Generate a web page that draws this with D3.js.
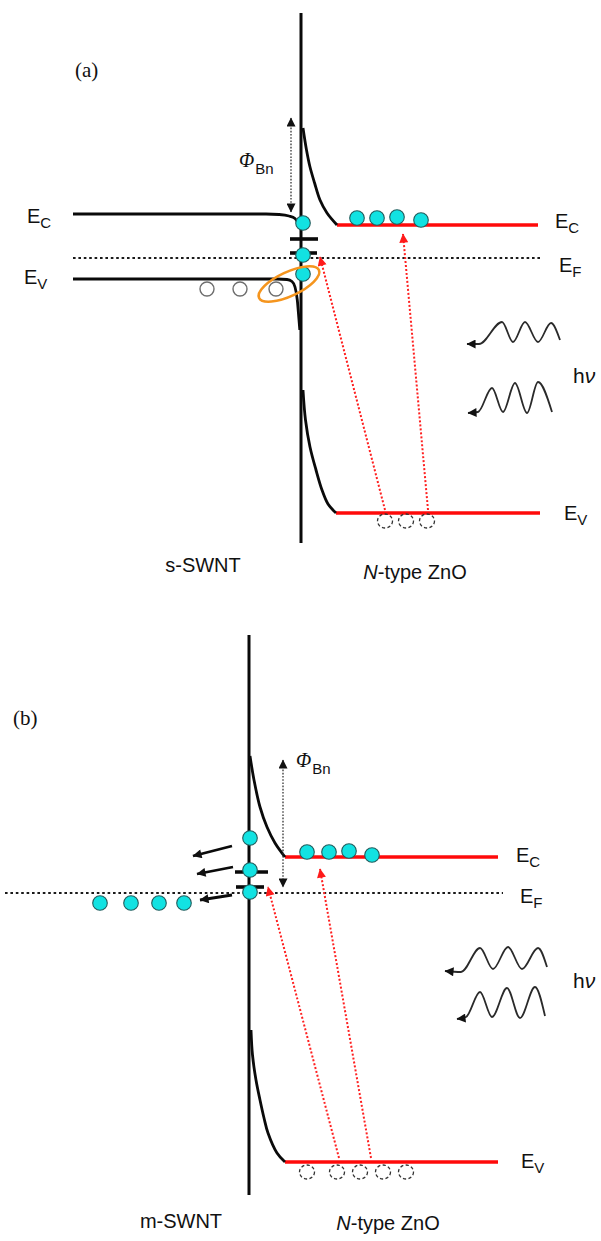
<!DOCTYPE html>
<html><head><meta charset="utf-8">
<script src="https://cdn.jsdelivr.net/npm/d3@7"></script>
<style>body{margin:0;background:#fff}svg{display:block}</style>
</head><body>
<svg id="c" width="601" height="1241"></svg>
<script>
// ---------- DATA (position relative to junction, energy relative to E_F) ----------
// Panel (a): s-SWNT / N-type ZnO
const junctionA = [245, -285];
const leftEcA = [[-228,44],[-35,44],[-22,43.5],[-12,42],[-6,39.5],[-3,35]];
const leftEvA = [[-228,-21],[-24,-21],[-14,-21.5],[-9,-23.5],[-6,-29],[-3.7,-42],[-2,-62],[-1.2,-72]];
const rightEcCurveA = [[2,130],[5.5,108],[9,91],[13.6,75],[19,58],[26,45],[36,33]];
const rightEvCurveA = [[2,-132],[4.5,-162],[9,-189],[15,-212],[21,-232],[27,-246],[35,-255]];
const redEcA = [[36,33],[237,33]];
const redEvA = [[35,-255],[239,-255]];
const fermiA = [[-228,0],[240,0]];
const barrierA = [[-10,140],[-10,46]];
const trapsA = [[-11,17,19],[-11,16,5]];
const electronsA = [[2,35],[2,3],[2,-16],[56,40],[76,40],[96,41],[120,38]];
const holesA = [[-94,-31],[-61,-31],[-25,-31]];
const dashedHolesA = [[84,-263],[105,-263],[126,-263]];
const excitationA = [[[84,-252],[19,1]],[[127,-252],[102,24]]];
const photon1A = [[166,-86],[178,-86],[201,-64],[212,-84],[224,-64],[237,-84],[250,-65],[259,-82]];
const photon2A = [[167,-155],[177,-154],[191,-130],[202,-154],[214,-125],[226,-155],[237,-124],[251,-154]];
const pairA = [-12,-26];

// Panel (b): m-SWNT / N-type ZnO
const junctionB = [258, -302];
const rightEcCurveB = [[1,137],[5,113],[11,86],[18,66],[26,50],[36,36]];
const rightEvCurveB = [[2,-137],[3.5,-162],[7,-187],[11,-207],[15,-225],[19,-240],[28,-260],[36,-269]];
const redEcB = [[36,36],[249,36]];
const redEvB = [[36,-269],[249,-269]];
const fermiB = [[-244,0],[254,0]];
const barrierB = [[34,133],[34,6]];
const trapsB = [[-14,19,21],[-13,15,6]];
const electronsB = [[1,55],[1,23],[1,1],[58,41],[80,41],[100,42],[123,38]];
const metalElectronsB = [[-149,-10],[-118,-10],[-90,-10],[-65,-10]];
const emissionB = [[[-17,47],[-56,37]],[[-16,26],[-52,19]],[[-17,-2],[-49,-7]]];
const dashedHolesB = [[58,-279],[88,-279],[111,-279],[134,-279],[157,-279]];
const excitationB = [[[90,-265],[19,6]],[[122,-265],[71,24]]];
const photon1B = [[196,-78],[212,-79],[231,-55],[244,-76],[259,-54],[273,-76],[289,-55],[298,-74]];
const photon2B = [[208,-126],[217,-124],[231,-99],[243,-124],[258,-95],[271,-125],[286,-94],[296,-123]];

// Text
const panelLabels = ["(a)", "(b)"];
const materialLabels = {a:["s-SWNT","N-type ZnO"], b:["m-SWNT","N-type ZnO"]};

// ---------- DRAWING ----------
const svg = d3.select("#c");
const defs = svg.append("defs");
function marker(id, color, len, wid){
  defs.append("marker").attr("id",id).attr("viewBox","0 0 10 10")
    .attr("refX",9.5).attr("refY",5).attr("markerUnits","userSpaceOnUse")
    .attr("markerWidth",len).attr("markerHeight",wid).attr("orient","auto-start-reverse")
    .append("path").attr("d","M0,0L10,5L0,10Z").attr("fill",color);
}
marker("mPhi","#111",12,9);
marker("mRed","#ff1a1a",11,9);
marker("mBlk","#111",11,9);
marker("mWave","#111",12,9);

const frames = {a:{x:301,y:258}, b:{x:249,y:893}};
function mk(p){
  const f = frames[p];
  return {
    x: d3.scaleLinear().domain([0,100]).range([f.x, f.x+100]),
    y: d3.scaleLinear().domain([0,100]).range([f.y, f.y-100])
  };
}
const CYAN = "#12e2e2", CYAN_STROKE = "#235c5c", RED = "#ff0a0a";
const SANS = "'Liberation Sans', Arial, sans-serif", SERIF = "'Liberation Serif', 'Times New Roman', serif";

function drawPanel(p, d){
  const s = mk(p);
  const g = svg.append("g");
  const line = c => d3.line().x(v=>s.x(v[0])).y(v=>s.y(v[1])).curve(c||d3.curveLinear);

  // Fermi level
  g.append("path").attr("d", line()(d.fermi)).attr("fill","none")
    .attr("stroke","#1a1a1a").attr("stroke-width",2.2).attr("stroke-dasharray","2.6,2.8");

  // Red ZnO band edges
  [d.redEc, d.redEv].forEach(r => g.append("path").attr("d", line()(r))
    .attr("fill","none").attr("stroke",RED).attr("stroke-width",3.4));

  // Band bending curves
  [d.rEc, d.rEv].forEach(c => g.append("path").attr("d", line(d3.curveCatmullRom)(c))
    .attr("fill","none").attr("stroke","#0a0a0a").attr("stroke-width",2.8));
  if (d.lEc) [d.lEc, d.lEv].forEach(c => g.append("path").attr("d", line(d3.curveMonotoneX)(c))
    .attr("fill","none").attr("stroke","#0a0a0a").attr("stroke-width",2.8));

  // Junction line
  g.append("line").attr("x1",s.x(0)).attr("x2",s.x(0))
    .attr("y1",s.y(d.junction[0])).attr("y2",s.y(d.junction[1]))
    .attr("stroke","#0a0a0a").attr("stroke-width",3);

  // Barrier height arrow
  g.append("path").attr("d", line()(d.barrier)).attr("fill","none")
    .attr("stroke","#333").attr("stroke-width",1.3).attr("stroke-dasharray","1.6,1.6")
    .attr("marker-start","url(#mPhi)").attr("marker-end","url(#mPhi)");

  // Excitation arrows
  d.excite.forEach(a => g.append("path").attr("d", line()(a)).attr("fill","none")
    .attr("stroke","#ff2020").attr("stroke-width",2).attr("stroke-dasharray","2,2")
    .attr("marker-end","url(#mRed)"));

  // Photons
  d.photons.forEach(w => g.append("path").attr("d", line(d3.curveMonotoneX)(w)).attr("fill","none")
    .attr("stroke","#2a2a2a").attr("stroke-width",1.8).attr("marker-start","url(#mWave)"));

  // Trap levels
  d.traps.forEach(t => g.append("line").attr("x1",s.x(t[0])).attr("x2",s.x(t[1]))
    .attr("y1",s.y(t[2])).attr("y2",s.y(t[2])).attr("stroke","#0a0a0a").attr("stroke-width",3.6));

  // Emission arrows (b)
  (d.emit||[]).forEach(a => g.append("path").attr("d", line()(a)).attr("fill","none")
    .attr("stroke","#0a0a0a").attr("stroke-width",2.8).attr("marker-end","url(#mBlk)"));

  // Holes
  (d.holes||[]).forEach(h => g.append("circle").attr("cx",s.x(h[0])).attr("cy",s.y(h[1])).attr("r",7)
    .attr("fill","#fff").attr("stroke","#6e6e6e").attr("stroke-width",1.4));
  d.dholes.forEach(h => g.append("ellipse").attr("cx",s.x(h[0])).attr("cy",s.y(h[1])).attr("rx",7.5).attr("ry",7)
    .attr("fill","none").attr("stroke","#333").attr("stroke-width",1.3).attr("stroke-dasharray","3.2,2.4"));

  // Electrons
  d.electrons.concat(d.metal||[]).forEach(e => g.append("circle").attr("cx",s.x(e[0])).attr("cy",s.y(e[1]))
    .attr("r", 7.3).attr("fill",CYAN).attr("stroke",CYAN_STROKE).attr("stroke-width",1.1));

  // Electron-hole pair ellipse (a)
  if (d.pair){
    g.append("ellipse").attr("cx",0).attr("cy",0).attr("rx",33).attr("ry",12)
      .attr("transform",`translate(${s.x(d.pair[0])},${s.y(d.pair[1])}) rotate(-25)`)
      .attr("fill","none").attr("stroke","#f5951e").attr("stroke-width",2.6);
  }

  // ---- Texts ----
  const T = (x,y,txt,opt={}) => g.append("text").attr("x",s.x(x)).attr("y",s.y(y))
      .attr("font-family",opt.family||SANS).attr("font-size",opt.size||19)
      .attr("text-anchor",opt.anchor||"start").attr("fill","#111").text(txt);
  const level = (x,y,sub) => {
    const t = T(x,y,"E",{size:20});
    t.append("tspan").attr("font-size",15).attr("dy",5).text(sub);
  };
  d.levels.forEach(l => level(l[0],l[1],l[2]));

  T(d.panelPos[0], d.panelPos[1], d.panelLabel, {family:SERIF, size:21});

  const phi = T(d.phiPos[0], d.phiPos[1], "", {family:SERIF, size:20});
  phi.append("tspan").attr("font-style","italic").text("Φ");
  phi.append("tspan").attr("font-family",SANS).attr("font-size",15).attr("dy",7).attr("dx",1).text("Bn");

  const hv = T(d.hvPos[0], d.hvPos[1], "h", {size:21});
  hv.append("tspan").attr("font-style","italic").text("ν");

  T(d.matPos[0][0], d.matPos[0][1], d.mats[0], {size:20, anchor:"middle"});
  const zn = T(d.matPos[1][0], d.matPos[1][1], "", {size:20, anchor:"middle"});
  zn.append("tspan").attr("font-style","italic").text(d.mats[1].slice(0,1));
  zn.append("tspan").text(d.mats[1].slice(1));
}

drawPanel("a", {
  junction: junctionA, fermi: fermiA, redEc: redEcA, redEv: redEvA,
  rEc: rightEcCurveA, rEv: rightEvCurveA, lEc: leftEcA, lEv: leftEvA,
  barrier: barrierA, excite: excitationA, photons: [photon1A, photon2A],
  traps: trapsA, holes: holesA, dholes: dashedHolesA, electrons: electronsA, pair: pairA,
  levels: [[-274,35,"C"],[-277,-26,"V"],[254,30,"C"],[258,-14,"F"],[263,-262,"V"]],
  panelLabel: panelLabels[0], panelPos: [-226,181],
  phiPos: [-62,91], hvPos: [272,-125],
  mats: materialLabels.a, matPos: [[-98,-314],[114,-321]]
});
drawPanel("b", {
  junction: junctionB, fermi: fermiB, redEc: redEcB, redEv: redEvB,
  rEc: rightEcCurveB, rEv: rightEvCurveB,
  barrier: barrierB, excite: excitationB, photons: [photon1B, photon2B],
  traps: trapsB, emit: emissionB, dholes: dashedHolesB, electrons: electronsB, metal: metalElectronsB,
  levels: [[267,31,"C"],[271,-10,"F"],[272,-275,"V"]],
  panelLabel: panelLabels[1], panelPos: [-236,168],
  phiPos: [47,126], hvPos: [324,-95],
  mats: materialLabels.b, matPos: [[-68,-335],[139,-337]]
});
</script>
</body></html>
